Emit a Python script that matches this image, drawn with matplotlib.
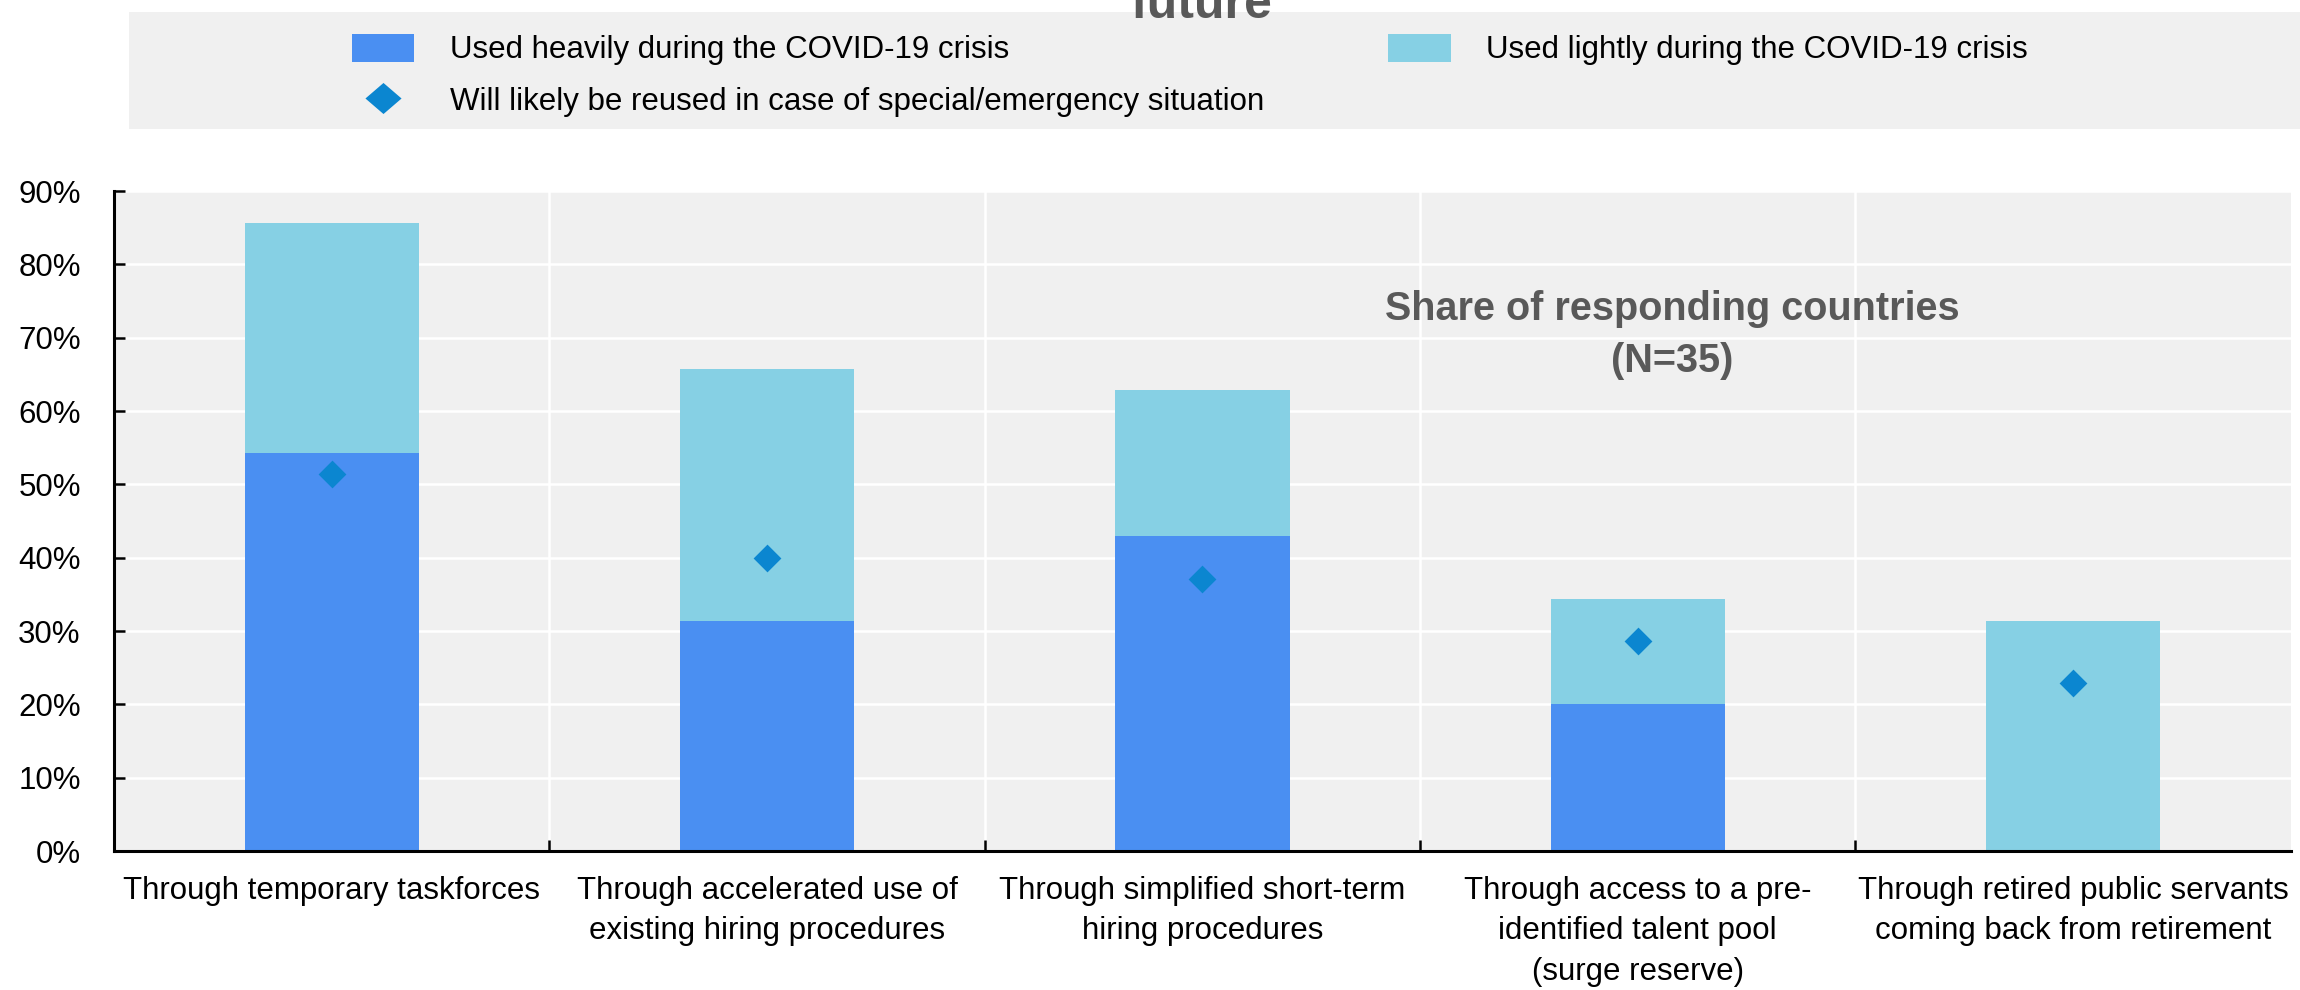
import numpy as np
import matplotlib
matplotlib.use("Agg")
import matplotlib.pyplot as plt
from matplotlib.patches import Patch, Rectangle
from matplotlib.lines import Line2D
from matplotlib.ticker import FixedLocator, PercentFormatter

#############################################################################################
# Data (share of responding countries, %)
categories = [
    "Through temporary taskforces",
    "Through accelerated use of\nexisting hiring procedures",
    "Through simplified short-term\nhiring procedures",
    "Through access to a pre-\nidentified talent pool\n(surge reserve)",
    "Through retired public servants\ncoming back from retirement",
]
used_heavily = [54.3, 31.4, 42.9, 20.0, 0.0]
used_lightly = [31.4, 34.3, 20.0, 14.3, 31.4]
reused_emergency = [51.4, 40.0, 37.1, 28.6, 22.9]

legend_labels = [
    "Used heavily during the COVID-19 crisis",
    "Used lightly during the COVID-19 crisis",
    "Will likely be reused in case of special/emergency situation",
]

#############################################################################################
# Style
plt.rcParams['font.family'] = ['Liberation Sans', 'DejaVu Sans']
HEAVY = "#4A8FF2"
LIGHT = "#86D0E4"
DIAMOND = "#0B86D0"
PANEL = "#F0F0F0"
FS = 22.5

diamond = [(-1, 0), (0, 1), (1, 0), (0, -1), (-1, 0)]
flat_diamond = [(-1, 0), (0, 0.86), (1, 0), (0, -0.86), (-1, 0)]

fig = plt.figure(figsize=(23, 9.9), dpi=100)
ax = fig.add_axes([0.0496, 0.1404, 0.9464, 0.6666])
ax.set_facecolor(PANEL)

x = np.arange(len(categories))
ax.bar(x, used_heavily, width=0.4, color=HEAVY, zorder=2)
ax.bar(x, used_lightly, width=0.4, bottom=used_heavily, color=LIGHT, zorder=2)
ax.plot(x, reused_emergency, linestyle='none', marker=diamond, markersize=20,
        color=DIAMOND, markeredgewidth=0, zorder=3)

ax.set_xlim(-0.5, len(categories) - 0.5)
ax.set_ylim(0, 90)
ax.set_yticks(np.arange(0, 91, 10))
ax.yaxis.set_major_formatter(PercentFormatter(decimals=0))
ax.set_xticks(x)
ax.set_xticklabels(categories, fontsize=FS, linespacing=1.45)
ax.xaxis.set_minor_locator(FixedLocator(np.arange(0.5, len(categories) - 0.5, 1)))

ax.tick_params(axis='x', which='major', length=0, pad=18)
ax.tick_params(axis='x', which='minor', direction='in', length=8, width=1.8, color='black')
ax.tick_params(axis='y', direction='in', length=8, width=1.8, labelsize=FS, pad=24)

ax.set_axisbelow(True)
ax.grid(axis='y', which='major', color='white', linewidth=1.8)
ax.grid(axis='x', which='minor', color='white', linewidth=1.8)

for side in ['top', 'right']:
    ax.spines[side].set_visible(False)
for side in ['left', 'bottom']:
    ax.spines[side].set_linewidth(2.2)

ax.text(3.08, 70.4, "Share of responding countries\n(N=35)", ha='center', va='center',
        fontsize=28.5, fontweight='bold', color='#595959', linespacing=1.45)

#############################################################################################
# Legend panel and clipped title
fig.patches.append(Rectangle((0.056, 0.8697), 0.944, 0.118, transform=fig.transFigure,
                             facecolor=PANEL, edgecolor='none', zorder=0))
fig.text(0.5224, 0.9818, "future", ha='center', va='baseline', fontsize=36,
         fontweight='bold', color='#595959', zorder=3)

handles = [
    Patch(facecolor=HEAVY, edgecolor='none'),
    Line2D([], [], linestyle='none', marker=flat_diamond, markersize=26, color=DIAMOND,
           markeredgewidth=0),
    Patch(facecolor=LIGHT, edgecolor='none'),
]
labels = [legend_labels[0], legend_labels[2], legend_labels[1]]
fig.legend(handles, labels, ncol=2, loc='upper left', bbox_to_anchor=(0.153, 0.966),
           frameon=False, fontsize=FS, handlelength=2.0, handleheight=1.0,
           handletextpad=1.15, columnspacing=3.95, labelspacing=0.65,
           borderpad=0, borderaxespad=0)

fig.savefig("out.png", dpi=100)
